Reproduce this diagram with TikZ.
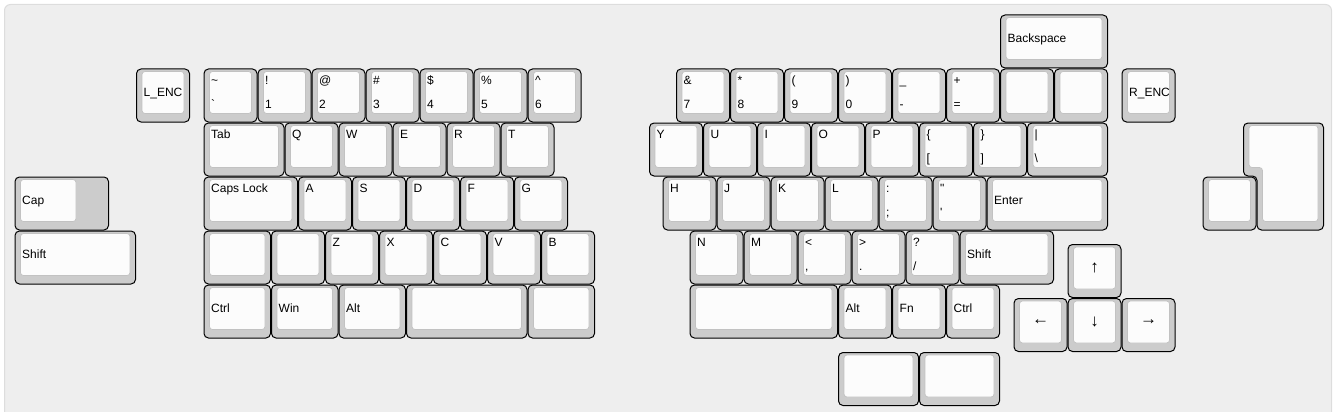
\documentclass[tikz,border=0pt]{standalone}
\usepackage{fontspec}
\newfontfamily\kf{Liberation Sans}
\definecolor{bgc}{HTML}{EEEEEE}
\definecolor{bgline}{HTML}{DDDDDD}
\definecolor{keyside}{HTML}{CCCCCC}
\definecolor{keytop}{HTML}{FCFCFC}
\definecolor{keyedge}{HTML}{C2C2C2}
\def\kx{14.5}
\def\ky{14.5}
\def\ku{54}
% #1 name, #2 x, #3 y, #4 w, #5 h
\newcommand\keybox[5]{%
  \path[keyouter] ({\kx+\ku*(#2)+0.5},{\ky+\ku*(#3)+0.5}) rectangle ({\kx+\ku*(#2+#4)-0.5},{\ky+\ku*(#3+#5)-0.5});
  \path[keyinner] ({\kx+\ku*(#2)+6},{\ky+\ku*(#3)+3}) rectangle ({\kx+\ku*(#2+#4)-6},{\ky+\ku*(#3+#5)-9});
  \coordinate (#1) at ({\kx+\ku*(#2)},{\ky+\ku*(#3)});
}
% top-left legend: name x y w label
\newcommand\kt[5]{\keybox{#1}{#2}{#3}{#4}{1}%
  \node[lab,anchor=base west] (#1-t) at ([xshift=7.5pt,yshift=-16pt]#1) {#5};}
% two legends: name x y top bottom
\newcommand\ktb[5]{\keybox{#1}{#2}{#3}{1}{1}%
  \node[lab,anchor=base west] (#1-t) at ([xshift=7.5pt,yshift=-16pt]#1) {#4};
  \node[lab,anchor=base west] (#1-b) at ([xshift=7.5pt,yshift=-40pt]#1) {#5};}
% centre-left legend: name x y w label
\newcommand\kc[5]{\keybox{#1}{#2}{#3}{#4}{1}%
  \node[lab,anchor=base west] (#1-c) at ([xshift=7.5pt,yshift=-28.3pt]#1) {#5};}
% centred legend (1u): name x y label
\newcommand\km[4]{\keybox{#1}{#2}{#3}{1}{1}%
  \node[arrowlab,anchor=center] (#1-m) at ([xshift=27pt,yshift=-24pt]#1) {#4};}
\begin{document}
\begin{tikzpicture}[x=1pt,y=-1pt,
  keyouter/.style={fill=keyside,draw=black,line width=1pt,rounded corners=4.5pt},
  keyinner/.style={fill=keytop,draw=keyedge,line width=0.7pt,rounded corners=3pt},
  lab/.style={font=\kf\fontsize{12}{14}\selectfont,inner sep=0pt,text=black},
  arrowlab/.style={font=\kf\fontsize{17}{17}\selectfont,inner sep=0pt,text=black}]
\useasboundingbox (0,0) rectangle (1334,412);
\clip (0,0) rectangle (1334,412);
\path[fill=bgc,draw=bgline,line width=1pt,rounded corners=6pt] (4.5,4.5) rectangle (1331.5,440);

% row 0
\kc{bksp}{18.25}{0}{2}{Backspace}
% row 1
\kc{lenc}{2.25}{1}{1}{L\_ENC}
\ktb{grv}{3.5}{1}{\textasciitilde}{\textasciigrave}
\ktb{ka}{4.5}{1}{!}{1}
\ktb{kb}{5.5}{1}{@}{2}
\ktb{kc}{6.5}{1}{\#}{3}
\ktb{kd}{7.5}{1}{\$}{4}
\ktb{ke}{8.5}{1}{\%}{5}
\ktb{kf}{9.5}{1}{\textasciicircum}{6}
\ktb{kg}{12.25}{1}{\&}{7}
\ktb{kh}{13.25}{1}{*}{8}
\ktb{ki}{14.25}{1}{(}{9}
\ktb{kj}{15.25}{1}{)}{0}
\ktb{kmin}{16.25}{1}{\_}{-}
\ktb{keq}{17.25}{1}{+}{=}
\keybox{kbl1}{18.25}{1}{1}{1}
\keybox{kbl2}{19.25}{1}{1}{1}
\kc{renc}{20.5}{1}{1}{R\_ENC}
% row 2
\kt{tab}{3.5}{2}{1.5}{Tab}
\kt{q}{5}{2}{1}{Q}
\kt{w}{6}{2}{1}{W}
\kt{e}{7}{2}{1}{E}
\kt{r}{8}{2}{1}{R}
\kt{t}{9}{2}{1}{T}
\kt{y}{11.75}{2}{1}{Y}
\kt{u}{12.75}{2}{1}{U}
\kt{i}{13.75}{2}{1}{I}
\kt{o}{14.75}{2}{1}{O}
\kt{p}{15.75}{2}{1}{P}
\ktb{lbr}{16.75}{2}{\{}{[}
\ktb{rbr}{17.75}{2}{\}}{]}
\keybox{bsl}{18.75}{2}{1.5}{1}
\node[lab,anchor=base west] (bsl-t) at ([xshift=7.5pt,yshift=-16pt]bsl) {\textbar};
\node[lab,anchor=base west] (bsl-b) at ([xshift=7.5pt,yshift=-40pt]bsl) {\textbackslash};
% big ISO-shaped key
\path[keyouter] ({\kx+\ku*22.75+0.5},{\ky+\ku*2+0.5}) -- ({\kx+\ku*24.25-0.5},{\ky+\ku*2+0.5})
  -- ({\kx+\ku*24.25-0.5},{\ky+\ku*4-0.5}) -- ({\kx+\ku*23+0.5},{\ky+\ku*4-0.5})
  -- ({\kx+\ku*23+0.5},{\ky+\ku*3-0.5}) -- ({\kx+\ku*22.75+0.5},{\ky+\ku*3-0.5}) -- cycle;
\path[keyinner] ({\kx+\ku*22.75+6},{\ky+\ku*2+3}) -- ({\kx+\ku*24.25-6},{\ky+\ku*2+3})
  -- ({\kx+\ku*24.25-6},{\ky+\ku*4-9}) -- ({\kx+\ku*23+6},{\ky+\ku*4-9})
  -- ({\kx+\ku*23+6},{\ky+\ku*3-9}) -- ({\kx+\ku*22.75+6},{\ky+\ku*3-9}) -- cycle;
\coordinate (iso) at ({\kx+\ku*22.75},{\ky+\ku*2});
% row 3
\path[keyouter] ({\kx+0.5},{\ky+\ku*3+0.5}) rectangle ({\kx+\ku*1.75-0.5},{\ky+\ku*4-0.5});
\path[keyinner] ({\kx+6},{\ky+\ku*3+3}) rectangle ({\kx+\ku*1.25-6},{\ky+\ku*4-9});
\coordinate (cap) at ({\kx},{\ky+\ku*3});
\node[lab,anchor=base west] (cap-c) at ([xshift=7.5pt,yshift=-28.3pt]cap) {Cap};
\kt{caps}{3.5}{3}{1.75}{Caps Lock}
\kt{a}{5.25}{3}{1}{A}
\kt{s}{6.25}{3}{1}{S}
\kt{d}{7.25}{3}{1}{D}
\kt{f}{8.25}{3}{1}{F}
\kt{g}{9.25}{3}{1}{G}
\kt{h}{12}{3}{1}{H}
\kt{j}{13}{3}{1}{J}
\kt{k}{14}{3}{1}{K}
\kt{l}{15}{3}{1}{L}
\ktb{scol}{16}{3}{:}{;}
\ktb{quot}{17}{3}{\textquotedbl}{\textquotesingle}
\kc{enter}{18}{3}{2.25}{Enter}
\keybox{np}{22}{3}{1}{1}
% row 4
\kc{lsh}{0}{4}{2.25}{Shift}
\keybox{lb1}{3.5}{4}{1.25}{1}
\keybox{lb2}{4.75}{4}{1}{1}
\kt{z}{5.75}{4}{1}{Z}
\kt{x}{6.75}{4}{1}{X}
\kt{c}{7.75}{4}{1}{C}
\kt{v}{8.75}{4}{1}{V}
\kt{b}{9.75}{4}{1}{B}
\kt{n}{12.5}{4}{1}{N}
\kt{m}{13.5}{4}{1}{M}
\ktb{comma}{14.5}{4}{<}{,}
\ktb{dot}{15.5}{4}{>}{.}
\ktb{slash}{16.5}{4}{?}{/}
\kc{rsh}{17.5}{4}{1.75}{Shift}
\km{up}{19.5}{4.25}{↑}
% row 5
\kc{lctrl}{3.5}{5}{1.25}{Ctrl}
\kc{win}{4.75}{5}{1.25}{Win}
\kc{lalt}{6}{5}{1.25}{Alt}
\keybox{lspc}{7.25}{5}{2.25}{1}
\keybox{lbl}{9.5}{5}{1.25}{1}
\keybox{rspc}{12.5}{5}{2.75}{1}
\kc{ralt}{15.25}{5}{1}{Alt}
\kc{fn}{16.25}{5}{1}{Fn}
\kc{rctrl}{17.25}{5}{1}{Ctrl}
\km{left}{18.5}{5.25}{←}
\km{down}{19.5}{5.25}{↓}
\km{right}{20.5}{5.25}{→}
% thumb row
\keybox{th1}{15.25}{6.25}{1.5}{1}
\keybox{th2}{16.75}{6.25}{1.5}{1}
\end{tikzpicture}
\end{document}
